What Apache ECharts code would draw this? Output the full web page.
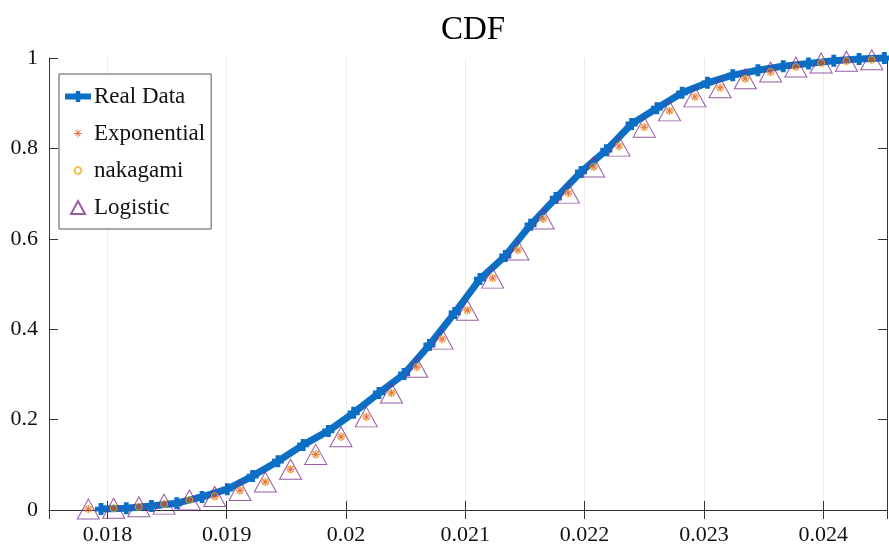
<!DOCTYPE html>
<html>
<head>
<meta charset="utf-8">
<title>CDF</title>
<script src="https://cdn.jsdelivr.net/npm/echarts@6/dist/echarts.min.js"></script>
<style>
  html, body { margin: 0; padding: 0; background: #fff; }
  #main { width: 889px; height: 560px; }
</style>
</head>
<body>
<div id="main"></div>
<script>
// x positions of the empirical CDF points
var realX = [0.017946, 0.018158, 0.018369, 0.018581, 0.018793, 0.019005, 0.019217, 0.019429,
  0.019641, 0.019852, 0.020064, 0.020276, 0.020487, 0.020699, 0.020911, 0.021123,
  0.021335, 0.021547, 0.021759, 0.021970, 0.022182, 0.022394, 0.022606, 0.022818,
  0.023030, 0.023242, 0.023453, 0.023665, 0.023877, 0.024089, 0.024301, 0.024513];
var realY = [0.002, 0.004, 0.009, 0.015, 0.029, 0.046, 0.075, 0.108,
  0.144, 0.175, 0.215, 0.259, 0.301, 0.365, 0.436, 0.511,
  0.562, 0.631, 0.690, 0.748, 0.796, 0.854, 0.889, 0.923,
  0.945, 0.962, 0.973, 0.982, 0.988, 0.994, 0.998, 1.000];

// x positions of the fitted distributions
var fitX = [0.017840, 0.018052, 0.018263, 0.018475, 0.018687, 0.018899, 0.019111, 0.019323,
  0.019535, 0.019746, 0.019958, 0.020170, 0.020381, 0.020593, 0.020805, 0.021017,
  0.021229, 0.021441, 0.021653, 0.021864, 0.022076, 0.022288, 0.022500, 0.022712,
  0.022924, 0.023136, 0.023347, 0.023559, 0.023771, 0.023983, 0.024195, 0.024407];
var expY = [0.002, 0.004, 0.007, 0.013, 0.022, 0.030, 0.043, 0.062,
  0.090, 0.123, 0.162, 0.206, 0.259, 0.316, 0.378, 0.442,
  0.513, 0.575, 0.644, 0.701, 0.759, 0.805, 0.847, 0.883,
  0.914, 0.934, 0.954, 0.969, 0.980, 0.989, 0.993, 0.996];
var nakY = [0.002, 0.004, 0.007, 0.013, 0.022, 0.030, 0.043, 0.062,
  0.090, 0.123, 0.162, 0.206, 0.259, 0.316, 0.378, 0.442,
  0.513, 0.575, 0.644, 0.701, 0.759, 0.805, 0.847, 0.883,
  0.914, 0.934, 0.954, 0.969, 0.980, 0.989, 0.993, 0.996];
var logY = [0.002, 0.004, 0.007, 0.013, 0.022, 0.030, 0.043, 0.062,
  0.090, 0.123, 0.162, 0.206, 0.259, 0.316, 0.378, 0.442,
  0.513, 0.575, 0.644, 0.701, 0.759, 0.805, 0.847, 0.883,
  0.914, 0.934, 0.954, 0.969, 0.980, 0.989, 0.993, 0.996];

var seriesNames = ['Real Data', 'Exponential', 'nakagami', 'Logistic'];

function pairs(xs, ys) {
  var out = [];
  for (var i = 0; i < xs.length; i++) out.push([xs[i], ys[i]]);
  return out;
}

var FONT = '"Liberation Serif", "DejaVu Serif", serif';
var plusPath = 'path://M3 0H7V3H10V7H7V10H3V7H0V3H3Z';
var starPath = 'path://M4.4 0H5.6V10H4.4Z M0 4.4H10V5.6H0Z M1.0 1.9L1.9 1.0L9.0 8.1L8.1 9.0Z M8.1 1.0L9.0 1.9L1.9 9.0L1.0 8.1Z';
// legend icons: the same marks, but small inside a 26x14 box (the M points only set the box)
var starIcon = 'path://M0 0M26 14 M12.6 3H13.4V11H12.6Z M9 6.6H17V7.4H9Z M10.3 4.0L10.9 3.4L15.7 9.4L15.1 10.0Z M15.1 3.4L15.7 4.0L10.9 10.0L10.3 9.4Z';
var circleIcon = 'path://M0 0M26 14 M13 3.6A3.4 3.4 0 1 1 12.99 3.6Z';
var triIcon = 'path://M0 0M26 14 M6 13.5L20 13.5L13 0.5Z';

var xMin = 0.01751, xMax = 0.024535;

var myChart = echarts.init(document.getElementById('main'));

var option = {
  backgroundColor: '#fff',
  animation: false,
  title: {
    text: 'CDF',
    left: 468,
    textAlign: 'center',
    top: 9,
    textStyle: { fontFamily: FONT, fontSize: 33, fontWeight: 'normal', color: '#000' }
  },
  legend: {
    data: [
      { name: 'Real Data', lineStyle: { width: 6 } },
      { name: 'Exponential', icon: starIcon },
      { name: 'nakagami', icon: circleIcon },
      { name: 'Logistic', icon: triIcon }
    ],
    orient: 'vertical',
    left: 59,
    top: 74,
    padding: [11, 6, 10, 3],
    itemGap: 14,
    itemWidth: 26,
    itemHeight: 14,
    symbolKeepAspect: false,
    backgroundColor: '#fff',
    borderColor: '#555',
    borderWidth: 1,
    textStyle: { fontFamily: FONT, fontSize: 23, color: '#111', padding: [0, 0, 0, -2] }
  },
  grid: { left: 49, right: 2, top: 58, bottom: 50 },
  xAxis: [{
    type: 'value',
    min: xMin,
    max: xMax,
    splitNumber: 7,
    axisLine: { lineStyle: { color: '#333', width: 1 } },
    axisTick: { inside: true, length: 9, lineStyle: { color: '#333' } },
    axisLabel: {
      showMinLabel: false, showMaxLabel: false, margin: 14,
      fontFamily: FONT, fontSize: 22, color: '#111',
      formatter: function (v) { return String(parseFloat(v.toFixed(4))); }
    },
    splitLine: { show: true, lineStyle: { color: '#ececec', width: 1 } }
  }, {
    type: 'value',
    position: 'top',
    min: xMin,
    max: xMax,
    splitNumber: 7,
    axisLine: { show: true, lineStyle: { color: '#333', width: 1 } },
    axisTick: { inside: true, length: 9, lineStyle: { color: '#333' } },
    axisLabel: { show: false },
    splitLine: { show: false }
  }],
  yAxis: [{
    type: 'value',
    min: 0,
    max: 1,
    interval: 0.2,
    axisLine: { show: true, lineStyle: { color: '#333', width: 1 } },
    axisTick: { show: true, inside: true, length: 9, lineStyle: { color: '#333' } },
    axisLabel: {
      margin: 11, fontFamily: FONT, fontSize: 22, color: '#111',
      formatter: function (v) { return v === 0 ? '0' : (v === 1 ? '1' : v.toFixed(1)); }
    },
    splitLine: { show: false }
  }, {
    type: 'value',
    position: 'right',
    min: 0,
    max: 1,
    interval: 0.2,
    axisLine: { show: true, lineStyle: { color: '#333', width: 1 } },
    axisTick: { show: true, inside: true, length: 9, lineStyle: { color: '#333' } },
    axisLabel: { show: false },
    splitLine: { show: false }
  }],
  series: [{
    name: 'Real Data',
    type: 'line',
    data: pairs(realX, realY),
    clip: false,
    symbol: plusPath,
    symbolSize: 12,
    showAllSymbol: true,
    lineStyle: { color: '#0b6fc6', width: 7 },
    itemStyle: { color: '#0b6fc6' },
    z: 2
  }, {
    name: 'Exponential',
    type: 'scatter',
    data: pairs(fitX, expY),
    clip: false,
    symbol: starPath,
    symbolSize: 8,
    itemStyle: { color: '#e2501a' },
    z: 3
  }, {
    name: 'nakagami',
    type: 'scatter',
    data: pairs(fitX, nakY),
    clip: false,
    symbol: 'circle',
    symbolSize: 7,
    itemStyle: { color: 'rgba(0,0,0,0)', borderColor: '#edb120', borderWidth: 1 },
    z: 4
  }, {
    name: 'Logistic',
    type: 'scatter',
    data: pairs(fitX, logY),
    clip: false,
    symbol: 'triangle',
    symbolSize: [22, 20],
    itemStyle: { color: 'rgba(0,0,0,0)', borderColor: '#7e2f8e', borderWidth: 1 },
    z: 5
  }]
};

myChart.setOption(option);
</script>
</body>
</html>
